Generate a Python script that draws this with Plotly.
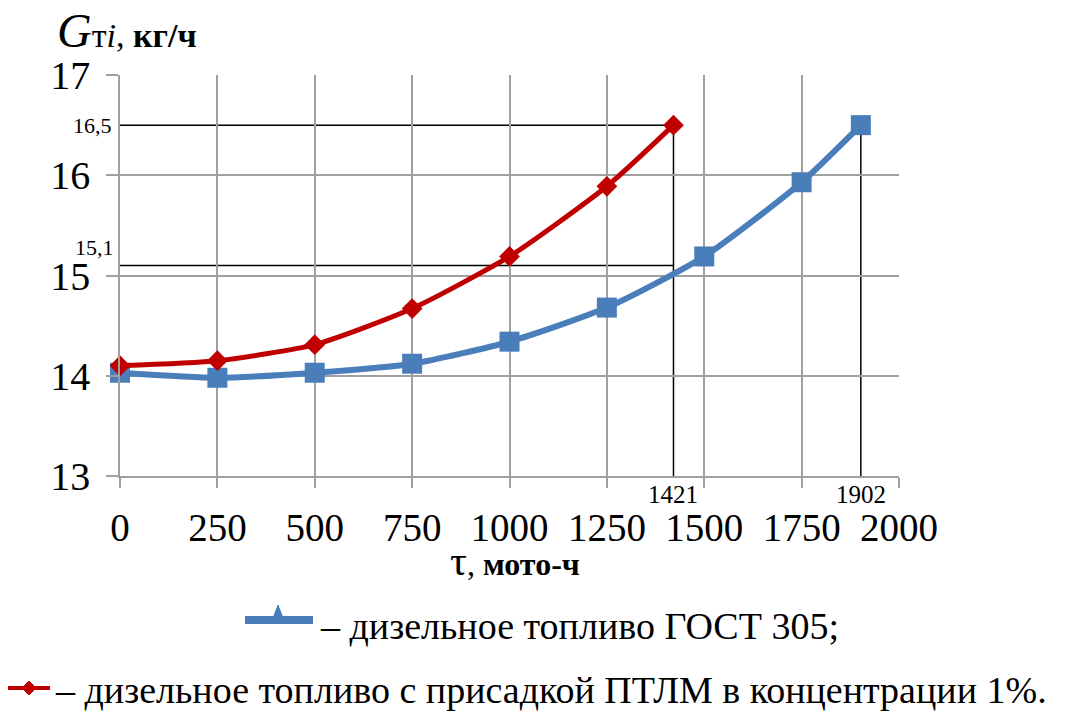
import plotly.graph_objects as go

# Operating time, moto-hours
hours_base = [0, 250, 500, 750, 1000, 1250, 1500, 1750, 1902]
hours_ptlm = [0, 250, 500, 750, 1000, 1250, 1421]

# Hourly fuel consumption, kg/h
fuel_base = [14.03, 13.98, 14.03, 14.12, 14.34, 14.68, 15.19, 15.93, 16.5]
fuel_ptlm = [14.10, 14.15, 14.31, 14.67, 15.19, 15.89, 16.5]

x_ticks = [0, 250, 500, 750, 1000, 1250, 1500, 1750, 2000]
y_ticks = [13, 14, 15, 16, 17]

# Marked reference values
limit_fuel = 16.5
mid_fuel = 15.1
limit_hours_ptlm = 1421
limit_hours_base = 1902

BLUE = "#4A7EBB"
RED = "#C00000"
GRID = "#A0A0A0"
SERIF = "Liberation Serif"

W, H = 1079, 715
L, R, T, B = 120, 180, 75, 239


def px(x):
    return (x - L) / (W - L - R)


def py(y):
    return (H - B - y) / (H - T - B)


fig = go.Figure()

fig.add_trace(go.Scatter(
    x=hours_base, y=fuel_base, mode="lines+markers",
    line=dict(color=BLUE, width=6, shape="spline", smoothing=0.6),
    marker=dict(symbol="square", size=20, color=BLUE),
    showlegend=False, cliponaxis=False,
))
fig.add_trace(go.Scatter(
    x=hours_ptlm, y=fuel_ptlm, mode="lines+markers",
    line=dict(color=RED, width=5, shape="spline", smoothing=0.6),
    marker=dict(symbol="diamond", size=16, color=RED),
    showlegend=False, cliponaxis=False,
))

shapes = []
ref_line = dict(color="black", width=1.5)
# horizontal guides
shapes.append(dict(type="line", xref="x", yref="y", x0=0, x1=limit_hours_ptlm,
                   y0=limit_fuel, y1=limit_fuel, line=ref_line, layer="below"))
shapes.append(dict(type="line", xref="x", yref="y", x0=0, x1=limit_hours_ptlm,
                   y0=mid_fuel, y1=mid_fuel, line=ref_line, layer="below"))
# vertical guides
shapes.append(dict(type="line", xref="x", yref="y", x0=limit_hours_ptlm, x1=limit_hours_ptlm,
                   y0=limit_fuel, y1=13, line=ref_line, layer="below"))
shapes.append(dict(type="line", xref="x", yref="y", x0=limit_hours_base, x1=limit_hours_base,
                   y0=limit_fuel, y1=13, line=ref_line, layer="below"))

# legend keys
shapes.append(dict(type="line", xref="paper", yref="paper", x0=px(245), x1=px(313),
                   y0=py(620), y1=py(620), line=dict(color=BLUE, width=8)))
shapes.append(dict(type="path", xref="paper", yref="paper",
                   path=f"M {px(272)} {py(621)} L {px(284)} {py(621)} L {px(278)} {py(605)} Z",
                   fillcolor=BLUE, line=dict(color=BLUE, width=1)))
shapes.append(dict(type="line", xref="paper", yref="paper", x0=px(8), x1=px(50),
                   y0=py(688), y1=py(688), line=dict(color=RED, width=4)))
shapes.append(dict(type="path", xref="paper", yref="paper",
                   path=(f"M {px(22)} {py(688)} L {px(29)} {py(681)} "
                         f"L {px(36)} {py(688)} L {px(29)} {py(695)} Z"),
                   fillcolor=RED, line=dict(color=RED, width=1)))

annotations = [
    dict(x=px(55), y=py(30), xref="paper", yref="paper", xanchor="left", yanchor="middle",
         showarrow=False, font=dict(family=SERIF, size=34, color="black"),
         text="<i><span style='font-size:48px'>G</span></i>т<i>i</i>, <b>кг/ч</b>"),
    dict(x=px(515), y=py(561), xref="paper", yref="paper", xanchor="center", yanchor="middle",
         showarrow=False, font=dict(family=SERIF, size=32, color="black"),
         text="<span style='font-size:42px'>τ</span>, <b>мото-ч</b>"),
    dict(x=0, y=limit_fuel, xref="x", yref="y", xanchor="right", yanchor="middle", xshift=-6,
         showarrow=False, font=dict(family=SERIF, size=22, color="black"),
         text=f"{limit_fuel}".replace(".", ",")),
    dict(x=0, y=mid_fuel, xref="x", yref="y", xanchor="right", yanchor="bottom", xshift=-4, yshift=3,
         showarrow=False, font=dict(family=SERIF, size=22, color="black"),
         text=f"{mid_fuel}".replace(".", ",")),
    dict(x=limit_hours_ptlm, y=13, xref="x", yref="y", xanchor="center", yanchor="top", yshift=-3,
         showarrow=False, font=dict(family=SERIF, size=25, color="black"),
         text=str(limit_hours_ptlm)),
    dict(x=limit_hours_base, y=13, xref="x", yref="y", xanchor="center", yanchor="top", yshift=-3,
         showarrow=False, font=dict(family=SERIF, size=25, color="black"),
         text=str(limit_hours_base)),
    dict(x=px(318), y=py(626), xref="paper", yref="paper", xanchor="left", yanchor="middle",
         showarrow=False, font=dict(family=SERIF, size=38, color="black"),
         text="– дизельное топливо ГОСТ 305;"),
    dict(x=px(53), y=py(690), xref="paper", yref="paper", xanchor="left", yanchor="middle",
         showarrow=False, font=dict(family=SERIF, size=38, color="black"),
         text="– дизельное топливо с присадкой ПТЛМ в концентрации 1%."),
]

fig.update_layout(
    width=W, height=H,
    margin=dict(l=L, r=R, t=T, b=B),
    paper_bgcolor="white", plot_bgcolor="white",
    shapes=shapes, annotations=annotations,
    font=dict(family=SERIF, color="black"),
)

fig.update_xaxes(
    range=[0, 2000], tickvals=x_ticks, ticktext=[str(v) for v in x_ticks],
    showgrid=True, gridcolor=GRID, gridwidth=1.5,
    showline=True, linecolor=GRID, linewidth=1.5,
    ticks="outside", ticklen=10, tickcolor=GRID, tickwidth=1.5,
    ticklabelstandoff=6,
    tickfont=dict(family=SERIF, size=39, color="black"),
    zeroline=False,
)
fig.update_yaxes(
    range=[13, 17], tickvals=y_ticks, ticktext=[str(v) for v in y_ticks],
    showgrid=True, gridcolor=GRID, gridwidth=1.5,
    showline=True, linecolor=GRID, linewidth=1.5,
    ticks="outside", ticklen=12, tickcolor=GRID, tickwidth=1.5,
    ticklabelstandoff=8,
    tickfont=dict(family=SERIF, size=40, color="black"),
    zeroline=False,
)

fig.write_html("out.html")
